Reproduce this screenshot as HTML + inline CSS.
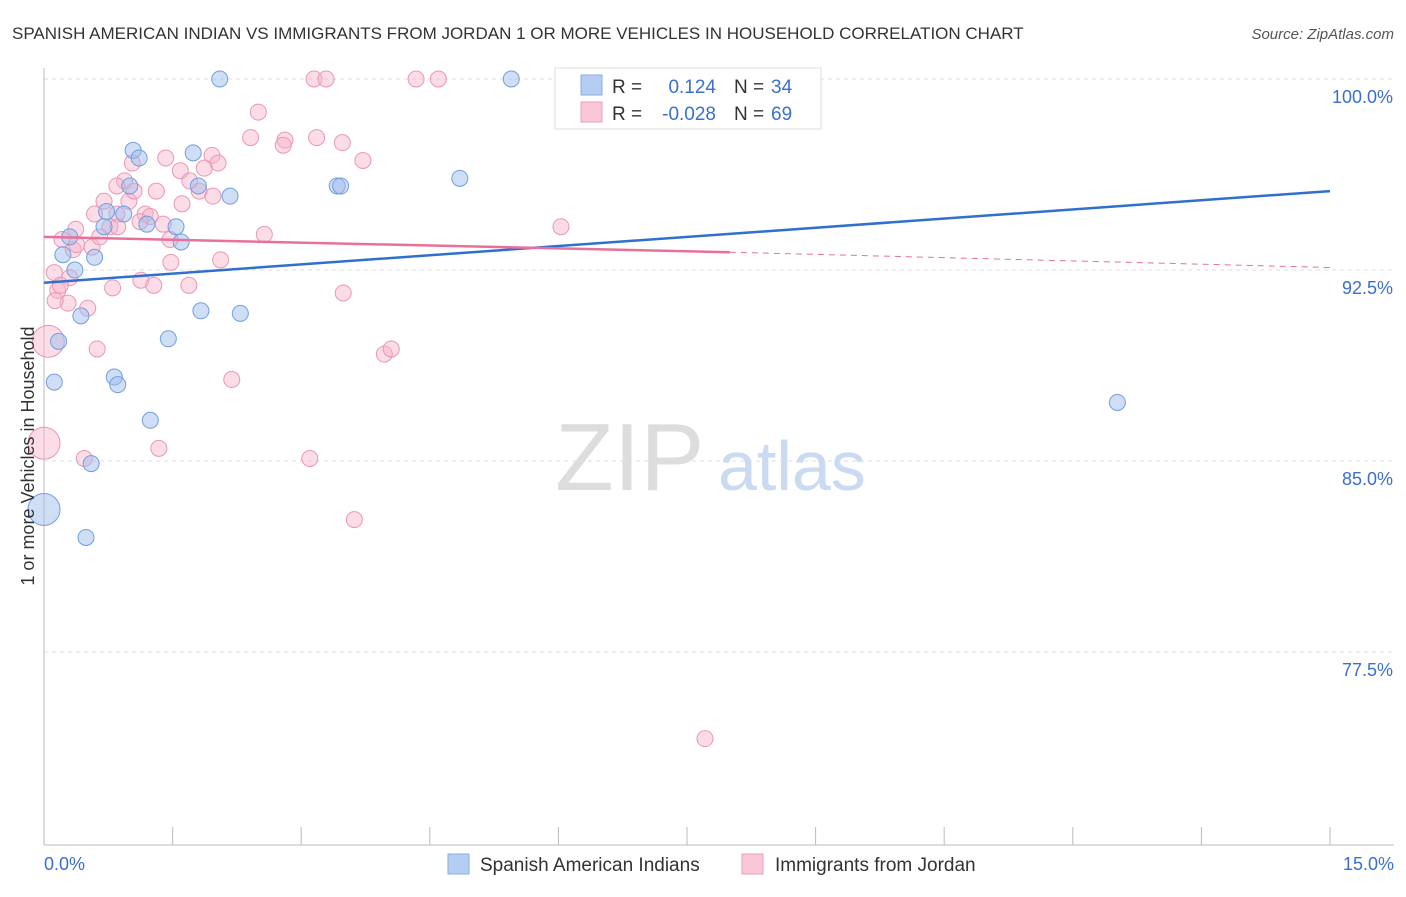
<!DOCTYPE html>
<html><head><meta charset="utf-8"><style>
body{margin:0;background:#fff;font-family:"Liberation Sans",sans-serif}
svg text{font-family:"Liberation Sans",sans-serif}
</style></head><body>
<svg id="c" width="1406" height="892">
<text x="12" y="39" font-size="17" fill="#333">SPANISH AMERICAN INDIAN VS IMMIGRANTS FROM JORDAN 1 OR MORE VEHICLES IN HOUSEHOLD CORRELATION CHART</text>
<text x="1394" y="39" font-size="15" fill="#555" font-style="italic" text-anchor="end">Source: ZipAtlas.com</text>
<g id="grid"></g>
<text x="555" y="490" font-size="96" fill="#ddd" font-family="Liberation Serif">ZIP</text>
<text x="718" y="490" font-size="70" fill="#c9daf2">atlas</text>
<g id="pts"></g>
<g id="lines"></g>
<text transform="translate(34,456) rotate(-90)" font-size="18" fill="#333" text-anchor="middle">1 or more Vehicles in Household</text>
<text x="44" y="870" font-size="18" fill="#3a6fd0">0.0%</text>
<text x="1394" y="870" font-size="18" fill="#3a6fd0" text-anchor="end">15.0%</text>
<g>
<rect x="555" y="68" width="266" height="61" fill="#fff" stroke="#ddd"/>
<rect x="581" y="75" width="21" height="20" fill="#b5cdf0" stroke="#85aee6"/>
<rect x="581" y="102" width="21" height="20" fill="#f9c6d5" stroke="#ef9fb9"/>
<text x="612" y="93" font-size="19" fill="#333">R =</text><text x="716" y="93" font-size="19" fill="#3a6fd0" text-anchor="end">0.124</text>
<text x="734" y="93" font-size="19" fill="#333">N =</text><text x="771" y="93" font-size="19" fill="#3a6fd0">34</text>
<text x="612" y="120" font-size="19" fill="#333">R =</text><text x="716" y="120" font-size="19" fill="#3a6fd0" text-anchor="end">-0.028</text>
<text x="734" y="120" font-size="19" fill="#333">N =</text><text x="771" y="120" font-size="19" fill="#3a6fd0">69</text>
</g>
<g>
<rect x="448" y="854" width="21" height="20" fill="#b5cdf0" stroke="#85aee6"/>
<text x="480" y="871" font-size="19" fill="#333">Spanish American Indians</text>
<rect x="742" y="854" width="21" height="20" fill="#f9c6d5" stroke="#ef9fb9"/>
<text x="775" y="871" font-size="19" fill="#333">Immigrants from Jordan</text>
</g>
</svg>
<script>
const yTicks=[100,92.5,85,77.5];
const yTickLabels=["100.0%","92.5%","85.0%","77.5%"];
const xTicks=[0,1.5,3,4.5,6,7.5,9,10.5,12,13.5,15];
const blueX=[2.05,5.45,1.04,1.11,1.74,4.85,3.42,3.46,2.17,1.80,1.00,0.73,0.93,1.20,1.54,0.70,0.30,1.60,0.22,0.59,0.36,0.43,1.83,2.29,0.17,1.45,0.12,0.82,0.86,1.24,12.52,0.55,0.0,0.49];
const blueY=[100,100,97.2,96.9,97.1,96.1,95.8,95.8,95.4,95.8,95.8,94.8,94.7,94.3,94.2,94.2,93.8,93.6,93.1,93.0,92.5,90.7,90.9,90.8,89.7,89.8,88.1,88.3,88.0,86.6,87.3,84.9,83.1,82.0];
const blueBig=[32];
const pinkX=[3.15,3.29,4.34,4.60,2.50,2.41,2.81,2.79,3.18,3.48,3.72,1.42,1.96,2.03,1.87,1.59,1.03,0.94,0.85,1.31,1.81,1.97,0.70,0.99,1.61,0.59,0.85,1.18,1.24,1.39,0.77,0.86,0.37,0.21,0.56,1.47,2.57,6.03,0.34,1.48,2.06,0.12,0.30,1.13,0.80,1.69,1.28,0.16,3.49,0.28,0.51,0.05,0.62,3.97,4.05,2.19,0.0,0.47,1.34,3.10,3.62,7.71,0.38,0.65,1.70,1.12,0.13,0.19,1.05];
const pinkY=[100,100,100,100,98.7,97.7,97.6,97.4,97.7,97.5,96.8,96.9,97.0,96.7,96.5,96.4,96.7,96.0,95.8,95.6,95.6,95.4,95.2,95.2,95.1,94.7,94.7,94.7,94.6,94.3,94.2,94.2,94.1,93.7,93.4,93.7,93.9,94.2,93.3,92.8,92.9,92.4,92.2,92.1,91.8,91.9,91.9,91.7,91.6,91.2,91.0,89.7,89.4,89.2,89.4,88.2,85.7,85.1,85.5,85.1,82.7,74.1,93.5,93.8,96.0,94.4,91.3,91.9,95.6];
const pinkBig=[51,56];
const blueTrend=[92.0,95.6];
const pinkTrend=[93.8,93.2,92.6];
const pinkSolidEnd=8.0;
const NS="http://www.w3.org/2000/svg";
const X0=44,X1=1330,Y0=79,PX=25.47;
const sx=v=>X0+v/15*(X1-X0), sy=v=>Y0+(100-v)*PX;
function mk(t,a,p){const e=document.createElementNS(NS,t);for(const k in a)e.setAttribute(k,a[k]);p.appendChild(e);return e;}
const g=document.getElementById('grid');
yTicks.forEach((t,i)=>{
 const l=mk('line',{x1:X0,x2:1394,y1:sy(t),y2:sy(t),stroke:'#ddd','stroke-dasharray':'4,4'},g);
 
 
 const tx=mk('text',{x:1393,y:sy(t)+24,'font-size':18,fill:'#3a6fd0','text-anchor':'end'},g);
 tx.textContent=yTickLabels[i];
 
 
});
const ax=mk('line',{x1:X0,x2:1394,y1:845,y2:845,stroke:'#bbb'},g);


const ay=mk('line',{x1:X0,x2:X0,y1:68,y2:845,stroke:'#bbb'},g);


xTicks.forEach(t=>{
 const l=mk('line',{x1:sx(t),x2:sx(t),y1:827,y2:845,stroke:'#bbb'},g);
 
 
});
const P=document.getElementById('pts');
pinkX.forEach((x,i)=>{
 const c=mk('circle',{cx:sx(x),cy:sy(pinkY[i]),r:pinkBig.includes(i)?16:8,fill:'rgba(246,178,202,0.45)',stroke:'#eb97b4','stroke-width':1},P);
 
 
});
blueX.forEach((x,i)=>{
 const c=mk('circle',{cx:sx(x),cy:sy(blueY[i]),r:blueBig.includes(i)?16:8,fill:'rgba(160,190,236,0.5)',stroke:'#6f9fe0','stroke-width':1},P);
 
 
});
const L=document.getElementById('lines');
const b=mk('line',{x1:sx(0),y1:sy(blueTrend[0]),x2:sx(15),y2:sy(blueTrend[1]),stroke:'#2f6fd0','stroke-width':2.5},L);


const p1=mk('line',{x1:sx(0),y1:sy(pinkTrend[0]),x2:sx(pinkSolidEnd),y2:sy(pinkTrend[1]),stroke:'#e8709a','stroke-width':2.5},L);


const p2=mk('line',{x1:sx(pinkSolidEnd),y1:sy(pinkTrend[1]),x2:sx(15),y2:sy(pinkTrend[2]),stroke:'#e8709a','stroke-width':1,'stroke-dasharray':'6,5'},L);


</script>
</body></html>
